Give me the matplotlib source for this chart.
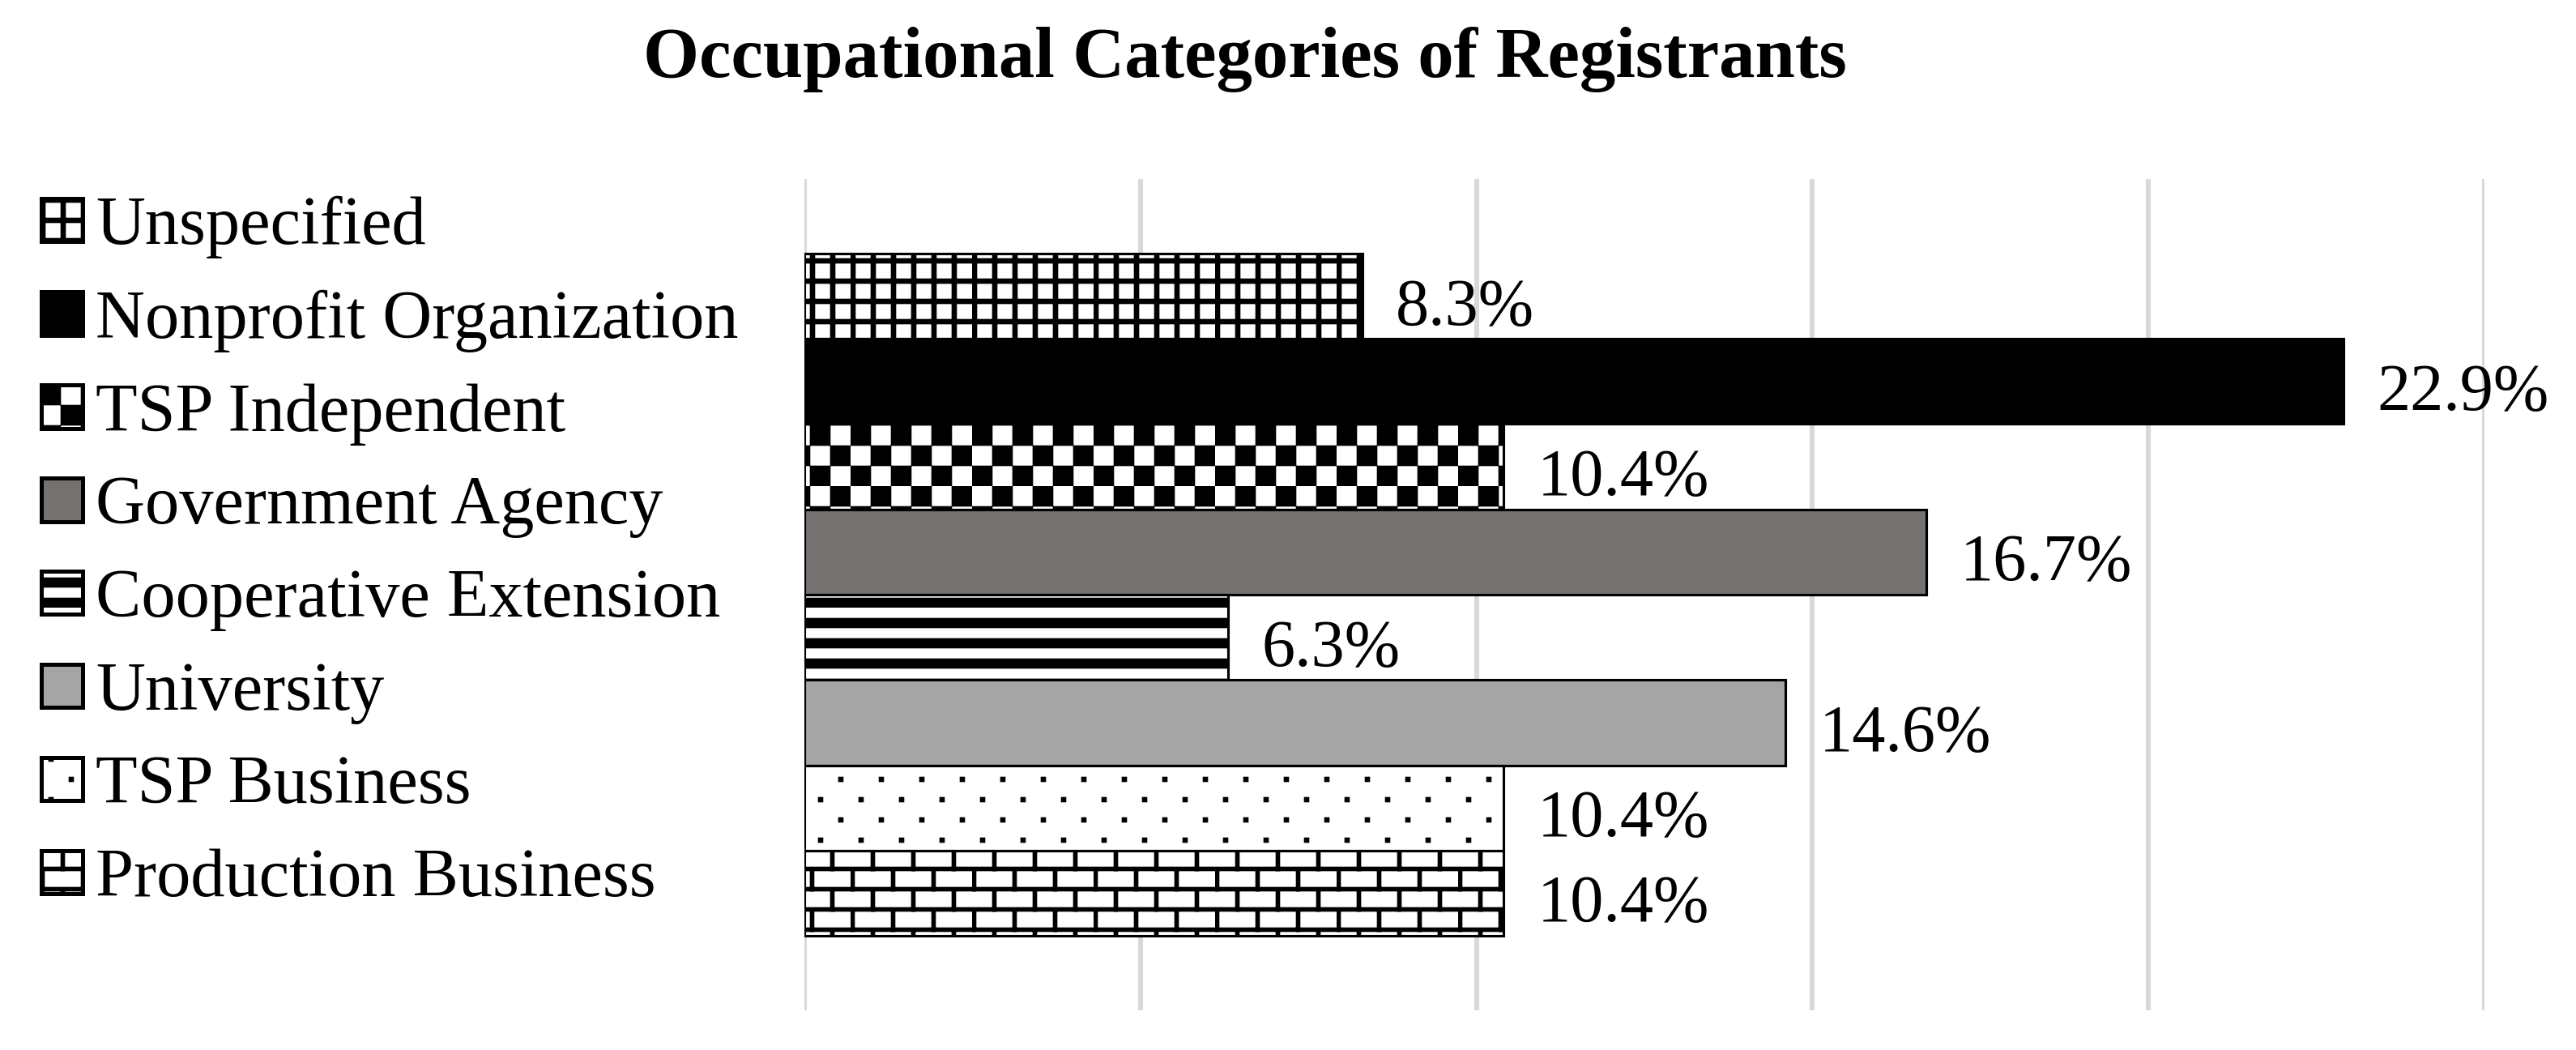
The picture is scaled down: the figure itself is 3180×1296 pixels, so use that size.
import numpy as np
import matplotlib
matplotlib.use("Agg")
import matplotlib.pyplot as plt
import matplotlib.hatch as mhatch
from matplotlib.path import Path

# ---------------------------------------------------------
# data
# ---------------------------------------------------------
categories = ["Unspecified", "Nonprofit Organization", "TSP Independent",
              "Government Agency", "Cooperative Extension", "University",
              "TSP Business", "Production Business"]
shares = [8.3, 22.9, 10.4, 16.7, 6.3, 14.6, 10.4, 10.4]
x_ticks = [0, 5, 10, 15, 20, 25]

# fill colour and pattern per category (patterns defined below)
fills = ["white", "black", "white", "#767171", "white", "#a5a5a5", "white", "white"]
patterns = ["+", None, "x", None, "-", None, ".", "*"]

DPI = 150
TILE = float(DPI)   # Agg hatch tile is one inch -> 150 px, cells of 25 px


# ---------------------------------------------------------
# Office-like fill patterns as filled hatch rectangles
# ---------------------------------------------------------
class RectPattern(mhatch.HatchPatternBase):
    symbol = None
    filled = True

    def __init__(self, hatch, density):
        self.boxes = self.make_boxes() if self.symbol in hatch else []
        self.num_vertices = 5 * len(self.boxes)

    def make_boxes(self):
        return []

    def set_vertices_and_codes(self, vertices, codes):
        for k, (x, y, w, h) in enumerate(self.boxes):
            vertices[5 * k:5 * k + 5] = np.array(
                [[x, y], [x + w, y], [x + w, y + h], [x, y + h], [x, y]]) / TILE
            codes[5 * k] = Path.MOVETO
            codes[5 * k + 1:5 * k + 4] = Path.LINETO
            codes[5 * k + 4] = Path.CLOSEPOLY


class GridPattern(RectPattern):       # small grid
    symbol = "+"

    def make_boxes(self):
        return ([(25 * i, 0, 6, 150) for i in range(6)]
                + [(0, 25 * j, 150, 6) for j in range(6)])


class CheckerPattern(RectPattern):    # large checkerboard
    symbol = "x"

    def make_boxes(self):
        return [(25 * i, 25 * j, 25, 25)
                for i in range(6) for j in range(6) if (i + j) % 2 == 0]


class StripePattern(RectPattern):     # wide horizontal stripes
    symbol = "-"

    def make_boxes(self):
        return [(0, 25 * j, 150, 12) for j in range(6)]


class DotPattern(RectPattern):        # sparse dots
    symbol = "."

    def make_boxes(self):
        return [(50 * i + (25 if j % 2 else 0) + 10, 25 * j + 10, 6, 6)
                for j in range(6) for i in range(3)]


class BrickPattern(RectPattern):      # horizontal brick
    symbol = "*"

    def make_boxes(self):
        return ([(0, 25 * j, 150, 5) for j in range(6)]
                + [(50 * i + (25 if j % 2 else 0), 25 * j, 5, 25)
                   for j in range(6) for i in range(3)])


mhatch._hatch_types = [GridPattern, CheckerPattern, StripePattern,
                       DotPattern, BrickPattern]

plt.rcParams["font.family"] = ["Liberation Serif", "DejaVu Serif"]
plt.rcParams["hatch.linewidth"] = 0.3
plt.rcParams["hatch.color"] = "black"

FS_LABEL = 39.5
FS_LEGEND = 40.5

# ---------------------------------------------------------
# figure
# ---------------------------------------------------------
W, H = 3180, 1296
fig = plt.figure(figsize=(W / DPI, H / DPI), dpi=DPI)
ax = fig.add_axes([993 / W, 1 - 1247 / H, (3067 - 993) / W, 1026 / H])

y = np.arange(len(categories))
for i in range(len(categories)):
    ax.barh(y[i], shares[i], height=1.0, color=fills[i], edgecolor="black",
            linewidth=1.5, hatch=patterns[i], label=categories[i], zorder=2)
    ax.annotate(f"{shares[i]:.1f}%", xy=(shares[i], y[i]), xytext=(20, -3),
                textcoords="offset points", va="center_baseline", ha="left",
                fontsize=FS_LABEL)

ax.set_xlim(x_ticks[0], x_ticks[-1])
ax.set_ylim(len(categories) - 0.5 + 0.874, -0.5 - 0.874)
ax.set_xticks(x_ticks)
ax.set_yticks([])
ax.tick_params(axis="x", length=0, labelbottom=False)
ax.grid(axis="x", color="#d9d9d9", linewidth=2.9)
ax.set_axisbelow(True)
for s in ax.spines.values():
    s.set_visible(False)

leg = ax.legend(loc="upper left", bbox_to_anchor=(51 / W, 1 - 242 / H),
                bbox_transform=fig.transFigure, frameon=False, fontsize=FS_LEGEND,
                handlelength=0.6, handleheight=0.6, handletextpad=0.2,
                labelspacing=0.45, borderpad=0, borderaxespad=0)
for p in leg.get_patches():
    p.set_linewidth(2.4)

fig.text(1537 / W, 1 - 95 / H, "Occupational Categories of Registrants",
         ha="center", va="baseline", fontsize=42.6, fontweight="bold")

fig.savefig("out.png", dpi=DPI)
